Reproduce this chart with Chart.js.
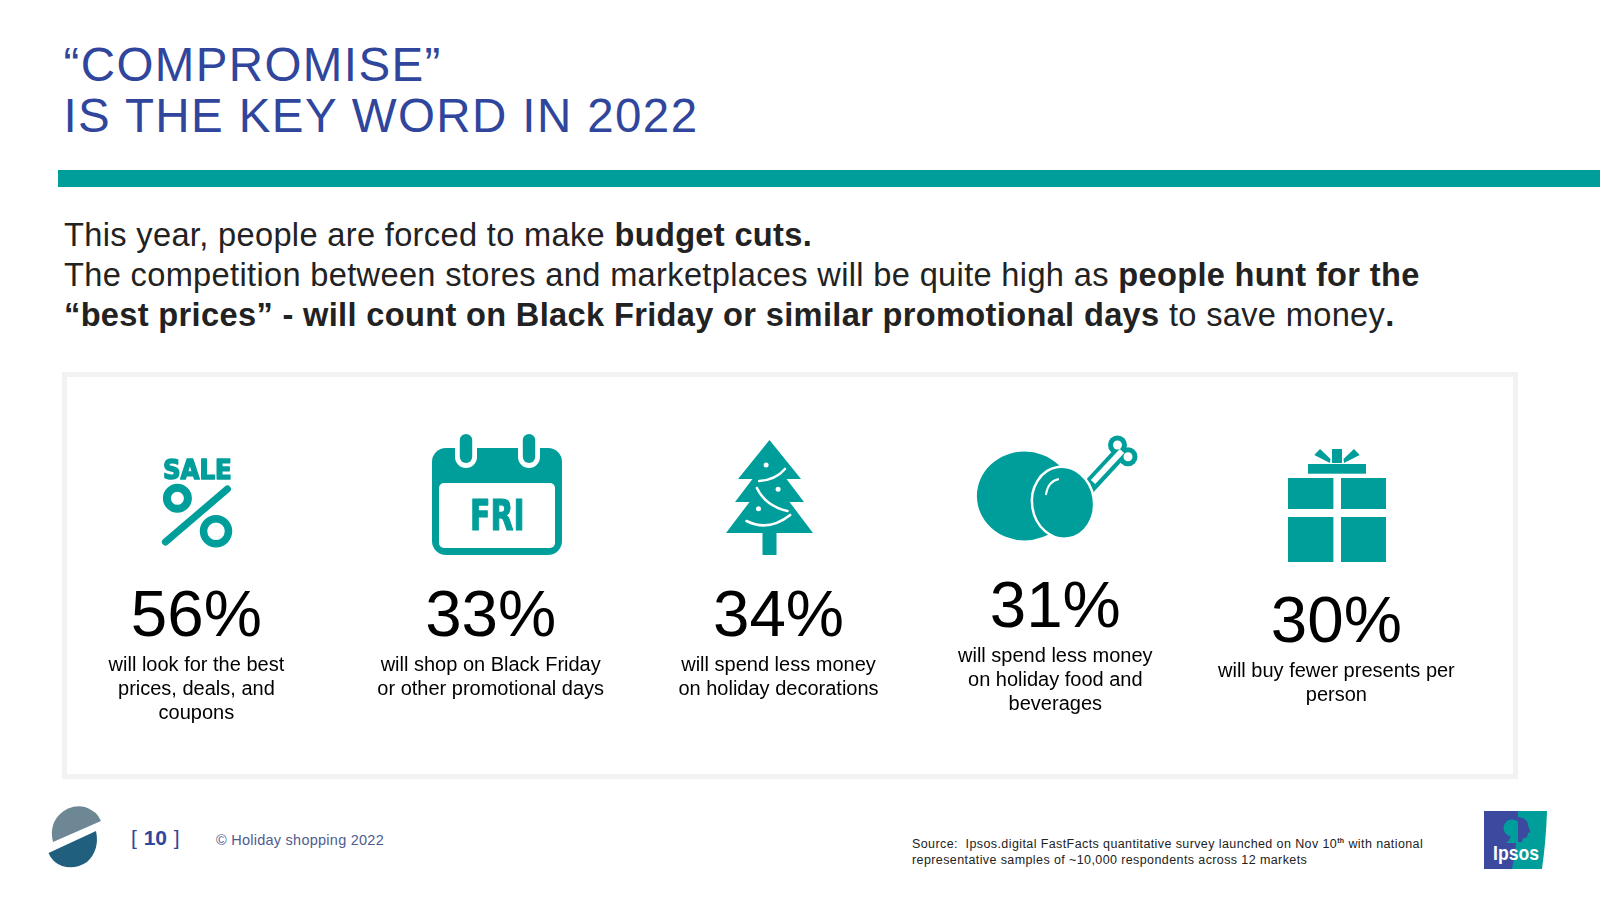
<!DOCTYPE html>
<html lang="en">
<head>
<meta charset="utf-8">
<title>Compromise is the key word in 2022</title>
<script src="https://cdn.jsdelivr.net/npm/chart.js@4"></script>
<style>
  html, body { margin: 0; background: #fff; }
  body { width: 1600px; height: 900px; position: relative; overflow: hidden; font-family: "Liberation Sans", Arial, sans-serif; }
  .abs { position: absolute; white-space: nowrap; }
  #title { left: 63.5px; top: 38.5px; font-size: 47.5px; line-height: 51px; color: #2f469c; letter-spacing: 1.4px; }
  #rule { left: 58px; top: 170px; width: 1542px; height: 17px; background: #009e9b; }
  #intro { left: 64px; top: 215px; font-size: 32.6px; line-height: 40px; color: #222; letter-spacing: .34px; }
  #box { left: 62px; top: 372px; width: 1446px; height: 397px; border: 5px solid #f2f2f2; }
  #chart-wrap { left: 58px; top: 372px; width: 1426px; height: 407px; }
  #page { left: 131px; top: 826px; font-size: 21px; color: #2f469c; word-spacing: 1px; }
  #copy { left: 216px; top: 832px; font-size: 14.5px; color: #4f5c8f; letter-spacing: .25px; }
  #source { left: 912px; top: 836px; font-size: 12.5px; line-height: 16px; color: #222; letter-spacing: .4px; }
  #source sup { font-size: 7px; font-weight: bold; line-height: 0; }
</style>
</head>
<body>
  <div id="title" class="abs">“COMPROMISE”<br>IS THE KEY WORD IN 2022</div>
  <div id="rule" class="abs"></div>
  <div id="intro" class="abs">This year, people are forced to make <b>budget cuts.</b><br>The competition between stores and marketplaces will be quite high as <b>people hunt for the</b><br><b>“best prices” - will count on Black Friday or similar promotional days</b> to save money<b>.</b></div>
  <div id="box" class="abs"></div>

  <!-- 차트 -->
  <div id="chart-wrap" class="abs"><canvas id="stats-chart"></canvas></div>

  <!-- footer -->
  <svg class="abs" style="left:40px;top:795px" width="70" height="85" viewBox="40 795 70 85">
    <path d="M53 842 Q49 826 59 815 Q70 804 85 807 Q97 811 101 821 Z" fill="#6e8794"/>
    <path d="M48.5 853 L96 831 Q100 850 87 862 Q75 870 62 866 Q52 862 48.5 853 Z" fill="#215f7e"/>
  </svg>
  <div id="page" class="abs">[ <b>10</b> ]</div>
  <div id="copy" class="abs">© Holiday shopping 2022</div>
  <div id="source" class="abs">Source:&nbsp; Ipsos.digital FastFacts quantitative survey launched on Nov 10<sup>th</sup> with national<br>representative samples of ~10,000 respondents across 12 markets</div>
  <svg class="abs" style="left:1484px;top:811px" width="65" height="59" viewBox="0 0 65 59">
    <rect x="0" y="0" width="36" height="58" fill="#3b4a9e"/>
    <path d="M34 0 H63 Q62 30 58 58 H28 Q34 30 34 0 Z" fill="#009e9b"/>
    <circle cx="28" cy="17" r="8.5" fill="#009e9b"/>
    <path d="M27 22 H34 V32 H22 Q27 29 27 22 Z" fill="#009e9b"/>
    <path d="M34 6 Q44 7 44.5 16 L46.5 21 L44 22 Q44 28 39 27 L38 31 L34 31 Z" fill="#3b4a9e"/>
    <text x="32" y="48.5" text-anchor="middle" font-family="Liberation Sans" font-weight="bold" font-size="21" fill="#fff" textLength="46" lengthAdjust="spacingAndGlyphs">Ipsos</text>
  </svg>

<script>
  // chart values
  const statLabels = [
    ['will look for the best', 'prices, deals, and', 'coupons'],
    ['will shop on Black Friday', 'or other promotional days'],
    ['will spend less money', 'on holiday decorations'],
    ['will spend less money', 'on holiday food and', 'beverages'],
    ['will buy fewer presents per', 'person']
  ];
  const statValues = [56, 33, 34, 31, 30];
  const iconTexts = ['SALE', 'FRI'];

  const TEAL = '#009e9b';

  // the slide does not line the columns up exactly, so nudge each one
  const textNudgeX = [-4.2, 4.9, 7.5, -0.9, -5];
  const textNudgeY = [0, 0, 0, -9, 6];
  const iconNudgeX = [-3.2, 11.2, -1.5, -5.2, -4.4];

  function fitText(ctx, text, left, baseline, width, font, bolder) {
    ctx.save();
    ctx.font = font;
    ctx.textAlign = 'left';
    const w = ctx.measureText(text).width;
    ctx.translate(left, baseline);
    ctx.scale(width / w, 1);
    ctx.fillText(text, 0, 0);
    ctx.strokeStyle = ctx.fillStyle;
    ctx.lineWidth = bolder;
    ctx.lineJoin = 'round';
    ctx.strokeText(text, 0, 0);
    ctx.restore();
  }

  function capsule(ctx, x, y, w, h, color) {
    ctx.fillStyle = color;
    ctx.beginPath();
    ctx.roundRect(x, y, w, h, w / 2);
    ctx.fill();
  }

  function polygon(ctx, pts) {
    ctx.beginPath();
    pts.forEach((p, i) => i ? ctx.lineTo(p[0], p[1]) : ctx.moveTo(p[0], p[1]));
    ctx.closePath();
    ctx.fill();
  }

  function curve(ctx, x1, y1, cx, cy, x2, y2) {
    ctx.beginPath();
    ctx.moveTo(x1, y1);
    ctx.quadraticCurveTo(cx, cy, x2, y2);
    ctx.stroke();
  }

  // every icon: x from its own centre, y from the top of the box
  const icons = [
    function sale(ctx) {
      fitText(ctx, iconTexts[0], -34.4, 106.5, 68.8, 'bold 27px "DejaVu Sans"', 1.6);
      ctx.strokeStyle = TEAL;
      ctx.lineWidth = 8;
      ctx.beginPath(); ctx.arc(-20, 126.3, 10.5, 0, Math.PI * 2); ctx.stroke();
      ctx.lineWidth = 7.5;
      ctx.beginPath(); ctx.arc(18.6, 159.3, 12.5, 0, Math.PI * 2); ctx.stroke();
      ctx.lineWidth = 7;
      ctx.lineCap = 'round';
      ctx.beginPath(); ctx.moveTo(30, 117); ctx.lineTo(-32, 170); ctx.stroke();
    },
    function calendar(ctx) {
      ctx.beginPath(); ctx.roundRect(-65, 76, 130, 107, 14); ctx.fill();
      ctx.fillStyle = '#fff';
      ctx.beginPath(); ctx.roundRect(-58, 111, 116, 65, 5); ctx.fill();
      [-31, 32].forEach(dx => {
        capsule(ctx, dx - 11, 62, 22, 34, '#fff');
        capsule(ctx, dx - 6.2, 62, 12.4, 29, TEAL);
      });
      ctx.fillStyle = TEAL;
      fitText(ctx, iconTexts[1], -27, 157.5, 54.5, 'bold 42px "DejaVu Sans"', 1.2);
    },
    function tree(ctx) {
      polygon(ctx, [[0, 68], [31.5, 107], [17, 107], [34.5, 130], [20, 130], [43.5, 161], [7, 161], [7, 183],
        [-7, 183], [-7, 161], [-43.5, 161], [-20, 130], [-34.5, 130], [-17, 107], [-31.5, 107]]);
      ctx.strokeStyle = '#fff';
      ctx.lineWidth = 2.6;
      ctx.lineCap = 'round';
      curve(ctx, -10.3, 109, 6, 108, 15.5, 97);
      curve(ctx, -12.6, 116, -4, 134, 18, 139);
      curve(ctx, -23, 149, -1, 160, 20.7, 143);
      ctx.fillStyle = '#fff';
      [[-3.4, 93], [8.6, 117.3], [-11, 136.7]].forEach(d => {
        ctx.beginPath(); ctx.arc(d[0], d[1], 2.5, 0, Math.PI * 2); ctx.fill();
      });
    },
    function drumstick(ctx) {
      ctx.beginPath(); ctx.ellipse(-26.5, 124, 47.6, 44.5, 0, 0, Math.PI * 2); ctx.fill();
      // bone
      const ends = [[66.5, 73], [77, 84.7]];
      ctx.strokeStyle = TEAL;
      ctx.lineWidth = 14;
      ctx.beginPath(); ctx.moveTo(35, 118); ctx.lineTo(71, 79); ctx.stroke();
      ends.forEach(e => { ctx.beginPath(); ctx.arc(e[0], e[1], 9.5, 0, Math.PI * 2); ctx.fill(); });
      ctx.strokeStyle = '#fff';
      ctx.lineWidth = 6;
      ctx.beginPath(); ctx.moveTo(42, 110); ctx.lineTo(71, 79); ctx.stroke();
      ctx.fillStyle = '#fff';
      ends.forEach(e => { ctx.beginPath(); ctx.arc(e[0], e[1], 4.5, 0, Math.PI * 2); ctx.fill(); });
      // leg
      ctx.fillStyle = TEAL;
      ctx.strokeStyle = '#fff';
      ctx.lineWidth = 2.5;
      ctx.beginPath(); ctx.ellipse(12, 130.7, 31, 36, -0.15, 0, Math.PI * 2); ctx.fill(); ctx.stroke();
      ctx.lineWidth = 2;
      curve(ctx, -5.2, 123, -3, 109, 8, 107);
    },
    function gift(ctx) {
      ctx.fillRect(-49, 106, 45.4, 31);
      ctx.fillRect(4, 106, 45, 31);
      ctx.fillRect(-49, 145, 45.4, 45);
      ctx.fillRect(4, 145, 45, 45);
      ctx.fillRect(-29, 92, 58, 9.7);
      ctx.fillRect(-5, 77, 10, 14);
      polygon(ctx, [[-17, 77], [-22.7, 83], [-7, 91], [-6.5, 87]]);
      polygon(ctx, [[17, 77], [22.7, 83], [7, 91], [6.5, 87]]);
    }
  ];

  // icons, big percentages and captions hang off the bars' columns
  const statsPlugin = {
    id: 'statsPlugin',
    afterDatasetsDraw(chart) {
      const ctx = chart.ctx;
      const top = chart.chartArea.top;
      chart.getDatasetMeta(0).data.forEach((bar, i) => {
        ctx.save();
        ctx.translate(bar.x + iconNudgeX[i], top);
        ctx.fillStyle = TEAL;
        icons[i](ctx);
        ctx.restore();

        const x = bar.x + textNudgeX[i];
        const y = top + 264 + textNudgeY[i];
        ctx.save();
        ctx.fillStyle = '#000';
        ctx.textAlign = 'center';
        ctx.font = '65.5px "Liberation Sans"';
        ctx.fillText(statValues[i] + '%', x, y);
        ctx.font = '20px "Liberation Sans"';
        chart.data.labels[i].forEach((line, n) => {
          ctx.fillText(line, x, y + 35 + n * 24.2);
        });
        ctx.restore();
      });
    }
  };

  window.chart1 = new Chart(document.getElementById('stats-chart').getContext('2d'), {
    type: 'bar',
    data: {
      labels: statLabels,
      datasets: [{
        label: 'Share of respondents',
        data: statValues,
        backgroundColor: 'transparent'
      }]
    },
    options: {
      responsive: true,
      maintainAspectRatio: false,
      animation: false,
      plugins: {
        legend: { display: false },
        title: { display: false },
        tooltip: { enabled: false }
      },
      scales: {
        x: { display: false },
        y: { display: false, min: 0, max: 100 }
      }
    },
    plugins: [statsPlugin]
  });
</script>
</body>
</html>
